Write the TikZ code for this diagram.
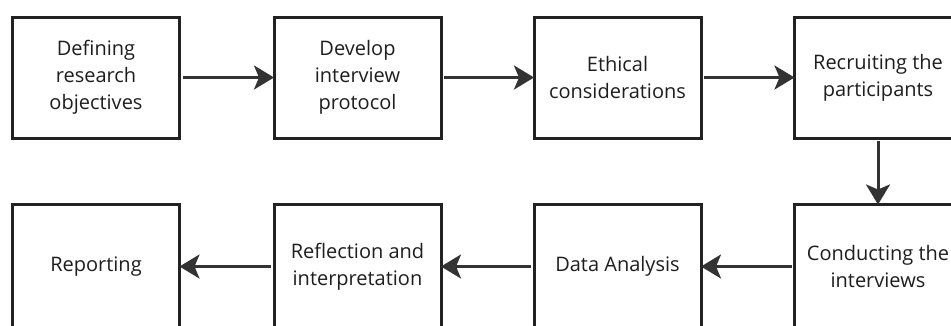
\documentclass[tikz,border=0pt]{standalone}
\usepackage{fontspec}
\setmainfont{Open Sans}
\usetikzlibrary{arrows.meta}
\definecolor{boxline}{HTML}{222222}
\definecolor{arrowc}{HTML}{333333}
\definecolor{txt}{HTML}{1E1E1E}
\begin{document}
\begin{tikzpicture}[x=1pt,y=-1pt,
  stepbox/.style={draw=boxline, line width=3pt, minimum width=167pt, minimum height=121pt,
    inner sep=0pt, outer sep=0pt, align=center, text=txt,
    font=\fontsize{20pt}{27pt}\selectfont},
  lowbox/.style={stepbox, minimum height=124pt},
  conn/.style={draw=arrowc, line width=3pt,
    -{Stealth[length=20pt,width=24pt,inset=5pt]}, shorten <=3pt}]
\useasboundingbox (0,0) rectangle (951,325);
\clip (0,0) rectangle (951,325);
\fill[white] (0,0) rectangle (951,325);
\node[stepbox] (a) at (96,77.5) {Defining\\research\\objectives};
\node[stepbox] (b) at (357.5,77.5) {Develop\\interview\\protocol};
\node[stepbox] (c) at (617.5,77.5) {Ethical\\considerations};
\node[stepbox] (d) at (878,77.5) {Recruiting the\\participants};
\node[lowbox] (e) at (878,266.5) {Conducting the\\interviews};
\node[lowbox] (f) at (617.5,266.5) {Data Analysis};
\node[lowbox] (g) at (357.5,266.5) {Reflection and\\interpretation};
\node[lowbox] (h) at (96,266.5) {Reporting};
\draw[conn] (a) -- (b);
\draw[conn] (b) -- (c);
\draw[conn] (c) -- (d);
\draw[conn] (d) -- (e);
\draw[conn] (e) -- (f);
\draw[conn] (f) -- (g);
\draw[conn] (g) -- (h);
\end{tikzpicture}
\end{document}
